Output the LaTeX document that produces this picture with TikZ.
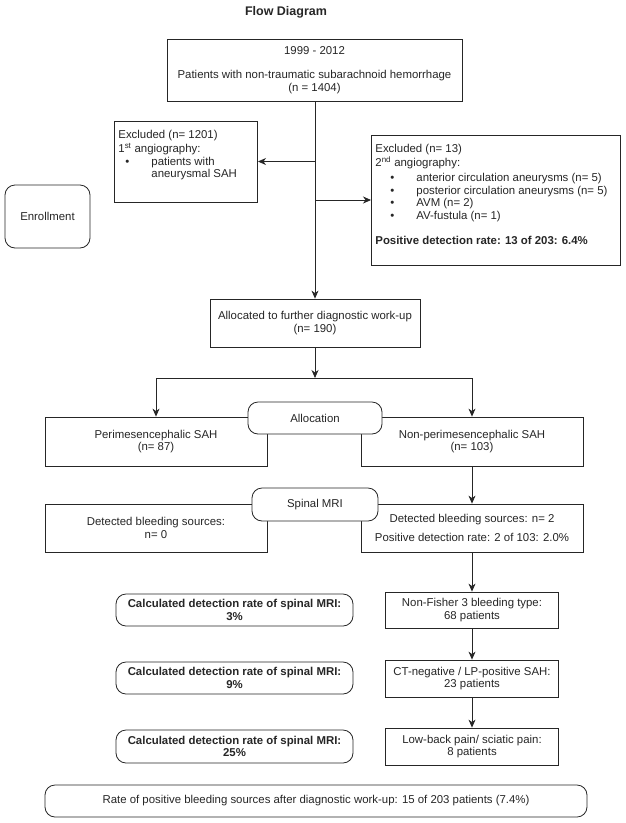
\documentclass[tikz,border=0pt]{standalone}
\usepackage{fontspec}
\setmainfont{Liberation Sans}
\usepackage{enumitem}
\usetikzlibrary{arrows.meta}
\tikzstyle{flowbox} = [draw=black!85, fill=white, line width=0.8pt,
    rectangle, inner sep=0pt, align=center, text=black!85,
    font=\fontsize{11.4}{12.5}\selectfont]
\tikzstyle{roundbox} = [flowbox, rounded corners=10pt]
\tikzstyle{listbox} = [flowbox, align=left, inner xsep=4pt, inner ysep=6pt]
\tikzstyle{flowline} = [draw=black!85, line width=0.8pt]
\tikzstyle{arrow} = [flowline, -{Stealth[length=8pt,width=7pt,inset=2.5pt]}]
\setlist[itemize]{itemsep=0pt, topsep=0pt, parsep=0pt, partopsep=0pt, labelsep=22pt}

\begin{document}
\begin{tikzpicture}[x=1pt,y=-1pt]
\useasboundingbox (0,0) rectangle (625,823);
\node[font=\fontsize{12.5}{14}\selectfont\bfseries, text=black!85] (title) at (286,12) {Flow Diagram};
\node[flowbox, minimum width=295pt, minimum height=62pt] (patients) at (314.5,70)
    {1999 - 2012\\[12pt]Patients with non-traumatic subarachnoid hemorrhage\\(n = 1404)};
\node[listbox] (excl1) at (186,161.5){
    \begin{minipage}[c][69pt][t]{132pt}
        \vspace*{3pt}Excluded (n= 1201)\\[2pt]
        1\textsuperscript{st} angiography:
        \begin{itemize}[leftmargin=33pt]
            \item patients with\\ aneurysmal SAH
        \end{itemize}
    \end{minipage}
};
\node[listbox] (excl2) at (496,200){
    \begin{minipage}[c][118pt][t]{238pt}
        \vspace*{3pt}Excluded (n= 13)\\[2pt]
        2\textsuperscript{nd} angiography:\\[-10pt]
        \begin{itemize}[leftmargin=41pt]
            \item anterior circulation aneurysms (n= 5)
            \item posterior circulation aneurysms (n= 5)
            \item AVM (n= 2)
            \item AV-fustula (n= 1)
        \end{itemize}
        \vspace{13pt}
        \textbf{Positive detection rate: 13 of 203: 6.4\%}
    \end{minipage}
};
\node[roundbox, minimum width=85pt, minimum height=63pt] (enroll) at (47.5,216.5) {Enrollment};
\node[flowbox, minimum width=210pt, minimum height=48pt] (alloc) at (315,323)
    {Allocated to further diagnostic work-up\\(n= 190)};
\coordinate (split) at (315,378);
\coordinate (toexcl1) at (alloc.north |- excl1.east);
\coordinate (toexcl2) at (alloc.north |- excl2.west);
\draw[arrow] (alloc.north |- patients.south) -- (alloc.north);
\draw[arrow] (toexcl1) -- (excl1.east);
\draw[arrow] (toexcl2) -- (excl2.west);

\node[flowbox, minimum width=222pt, minimum height=49pt] (peri) at (156,441.5)
    {Perimesencephalic SAH\\(n= 87)};
\node[flowbox, minimum width=222pt, minimum height=49pt] (nonperi) at (472,441.5)
    {Non-perimesencephalic SAH\\(n= 103)};
\node[roundbox, minimum width=134pt, minimum height=32pt] (allocation) at (315,418) {Allocation};
\draw[arrow] (alloc.south) -- (split);
\draw[arrow] (split) -| (peri.north);
\draw[arrow] (split) -| (nonperi.north);

\node[flowbox, minimum width=222pt, minimum height=48pt] (detnone) at (156,528)
    {Detected bleeding sources:\\n= 0};
\node[flowbox, minimum width=222pt, minimum height=48pt] (dettwo) at (472,528)
    {Detected bleeding sources: n= 2\\[6pt]Positive detection rate: 2 of 103: 2.0\%};
\node[roundbox, minimum width=126pt, minimum height=33pt] (mri) at (315,504.5) {Spinal MRI};
\draw[arrow] (nonperi.south) -- (dettwo.north);

\node[flowbox, minimum width=173pt, minimum height=36pt] (fisher) at (472,610)
    {Non-Fisher 3 bleeding type:\\68 patients};
\node[flowbox, minimum width=173pt, minimum height=37pt] (ctneg) at (472,678.5)
    {CT-negative / LP-positive SAH:\\23 patients};
\node[flowbox, minimum width=173pt, minimum height=37pt] (backpain) at (472,746.5)
    {Low-back pain/ sciatic pain:\\8 patients};
\draw[arrow] (dettwo.south) -- (fisher.north);
\draw[arrow] (fisher.south) -- (ctneg.north);
\draw[arrow] (ctneg.south) -- (backpain.north);

\node[roundbox, font=\fontsize{11.4}{12.5}\selectfont\bfseries, minimum width=237pt, minimum height=32pt] (rate3) at (234.5,610)
    {Calculated detection rate of spinal MRI:\\3\%};
\node[roundbox, font=\fontsize{11.4}{12.5}\selectfont\bfseries, minimum width=237pt, minimum height=32pt] (rate9) at (234.5,678)
    {Calculated detection rate of spinal MRI:\\9\%};
\node[roundbox, font=\fontsize{11.4}{12.5}\selectfont\bfseries, minimum width=237pt, minimum height=33pt] (rate25) at (234.5,746.5)
    {Calculated detection rate of spinal MRI:\\25\%};

\node[roundbox, minimum width=542pt, minimum height=32pt] (total) at (316,801)
    {Rate of positive bleeding sources after diagnostic work-up: 15 of 203 patients (7.4\%)};
\end{tikzpicture}
\end{document}
